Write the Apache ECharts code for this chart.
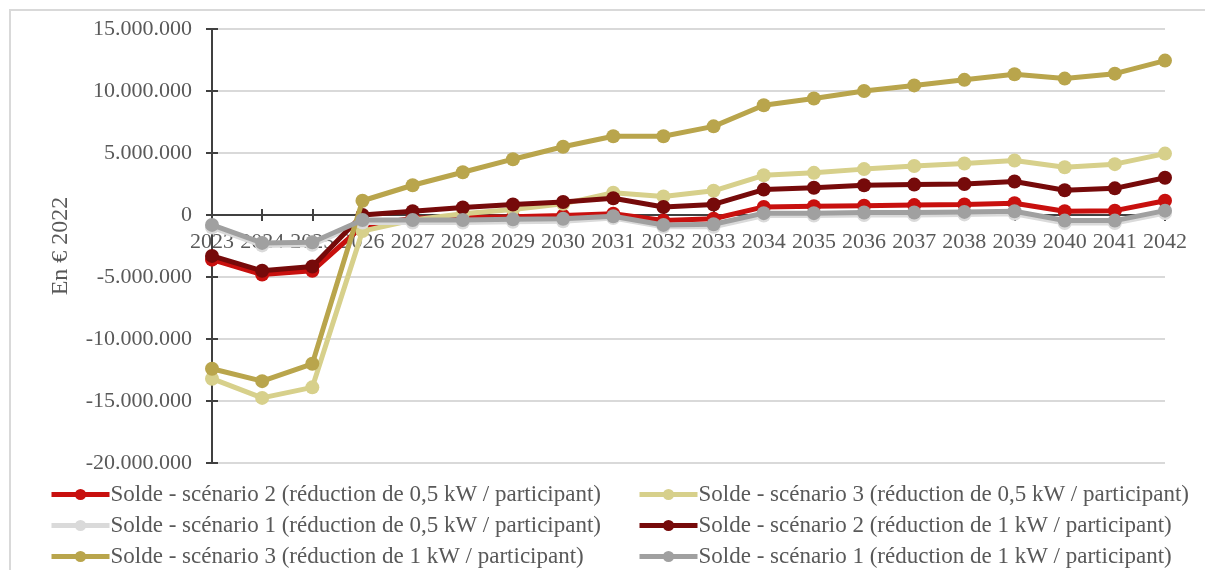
<!DOCTYPE html>
<html>
<head>
<meta charset="utf-8">
<script src="https://cdn.jsdelivr.net/npm/echarts@6/dist/echarts.min.js"></script>
<style>
  html, body { margin: 0; padding: 0; background: #fff; }
  #chart { width: 1205px; height: 570px; }
</style>
</head>
<body>
<div id="chart"></div>
<script>
// années
var years = ['2023', '2024', '2025', '2026', '2027', '2028', '2029', '2030', '2031', '2032',
  '2033', '2034', '2035', '2036', '2037', '2038', '2039', '2040', '2041', '2042'];

// soldes en € 2022
var s2_05 = [-3600000, -4800000, -4500000, -900000, -250000, -200000, -150000, -50000, 100000, -450000,
  -300000, 650000, 700000, 750000, 800000, 850000, 950000, 300000, 350000, 1150000];
var s3_05 = [-13200000, -14750000, -13900000, -1300000, -400000, 100000, 450000, 900000, 1800000, 1500000,
  1950000, 3200000, 3400000, 3700000, 3950000, 4150000, 4400000, 3850000, 4100000, 4950000];
var s1_05 = [-1000000, -2450000, -2400000, -600000, -600000, -600000, -550000, -500000, -250000, -950000,
  -950000, -50000, -50000, 0, 0, 50000, 100000, -650000, -650000, 150000];
var s2_1 = [-3300000, -4500000, -4150000, 0, 300000, 600000, 850000, 1050000, 1350000, 650000,
  850000, 2050000, 2200000, 2400000, 2450000, 2500000, 2700000, 2000000, 2150000, 3000000];
var s3_1 = [-12400000, -13400000, -12000000, 1150000, 2400000, 3450000, 4500000, 5500000, 6350000, 6350000,
  7150000, 8850000, 9400000, 10000000, 10450000, 10900000, 11350000, 11000000, 11400000, 12450000];
var s1_1 = [-800000, -2250000, -2200000, -400000, -400000, -400000, -350000, -300000, -100000, -800000,
  -750000, 150000, 150000, 200000, 200000, 250000, 300000, -450000, -450000, 350000];

var names = [
  'Solde - scénario 2 (réduction de 0,5 kW / participant)',
  'Solde - scénario 3 (réduction de 0,5 kW / participant)',
  'Solde - scénario 1 (réduction de 0,5 kW / participant)',
  'Solde - scénario 2 (réduction de 1 kW / participant)',
  'Solde - scénario 3 (réduction de 1 kW / participant)',
  'Solde - scénario 1 (réduction de 1 kW / participant)'
];
var colors = ['#C8100E', '#D7D08B', '#DADADA', '#760A0A', '#B9A54C', '#A0A0A0'];
var values = [s2_05, s3_05, s1_05, s2_1, s3_1, s1_1];

var font = 'Liberation Serif';
var textColor = '#595959';
var axisColor = '#404040';

function fmt(v) {
  var s = Math.abs(v).toString().replace(/\B(?=(\d{3})+(?!\d))/g, '.');
  return (v < 0 ? '-' : '') + s;
}

var chart = echarts.init(document.getElementById('chart'));

var series = values.map(function (d, i) {
  return {
    name: names[i],
    type: 'line',
    data: d,
    symbol: 'circle',
    symbolSize: 14,
    lineStyle: { width: 5, color: colors[i] },
    itemStyle: { color: colors[i] },
    z: 2 + i
  };
});

// légende en 2 colonnes, 3 lignes
var legends = names.map(function (n, i) {
  return {
    data: [n],
    left: i % 2 === 0 ? 49 : 637,
    top: 483 + Math.floor(i / 2) * 31,
    padding: 0,
    itemWidth: 58,
    itemHeight: 14,
    lineStyle: { width: 5 },
    textStyle: { fontFamily: font, fontSize: 23, color: textColor, lineHeight: 22, padding: [0, 0, 0, -4] }
  };
});

var option = {
  animation: false,
  color: colors,
  grid: [
    { left: 212, right: 40, top: 29, bottom: 107 },
    // grille haute : sert seulement à poser les années sur l'axe du zéro
    { left: 212, right: 40, top: 29, bottom: 355 }
  ],
  graphic: [{
    type: 'rect',
    shape: { x: 10, y: 10, width: 1210, height: 580 },
    style: { fill: 'none', stroke: '#d9d9d9', lineWidth: 2 },
    silent: true
  }],
  legend: legends,
  xAxis: [{
    type: 'category',
    gridIndex: 0,
    data: years,
    boundaryGap: false,
    axisLine: { onZero: true, lineStyle: { color: axisColor, width: 2 } },
    axisTick: { show: true, length: 6, lineStyle: { color: axisColor, width: 2 } },
    axisLabel: { show: false },
    splitLine: { show: false }
  }, {
    type: 'category',
    gridIndex: 1,
    data: years,
    boundaryGap: false,
    axisLine: { show: true, onZero: false, lineStyle: { color: axisColor, width: 2 } },
    axisTick: { show: true, inside: true, length: 6, lineStyle: { color: axisColor, width: 2 } },
    axisLabel: { margin: 16, fontFamily: font, fontSize: 22, color: textColor, interval: 0 },
    splitLine: { show: false },
    z: 1
  }],
  yAxis: [{
    type: 'value',
    gridIndex: 0,
    min: -20000000,
    max: 15000000,
    interval: 5000000,
    name: 'En € 2022',
    nameLocation: 'middle',
    nameRotate: 90,
    nameGap: 139,
    nameTextStyle: { fontFamily: font, fontSize: 24, color: textColor },
    axisLine: { show: true, lineStyle: { color: axisColor, width: 2 } },
    axisTick: { show: true, length: 6, lineStyle: { color: axisColor, width: 2 } },
    axisLabel: { margin: 20, fontFamily: font, fontSize: 22, color: textColor, formatter: fmt },
    splitLine: { show: true, lineStyle: { color: '#d9d9d9', width: 2 } }
  }, {
    type: 'value',
    gridIndex: 0,
    min: -20000000,
    max: 15000000,
    interval: 5000000,
    position: 'left',
    axisLine: { show: true, lineStyle: { color: axisColor, width: 2 } },
    axisTick: { show: true, inside: true, length: 6, lineStyle: { color: axisColor, width: 2 } },
    axisLabel: { show: false },
    splitLine: { show: false }
  }, {
    type: 'value',
    gridIndex: 1,
    min: 0,
    max: 1,
    show: false
  }],
  series: series
};

chart.setOption(option);
window.addEventListener('resize', function () { chart.resize(); });
</script>
</body>
</html>
